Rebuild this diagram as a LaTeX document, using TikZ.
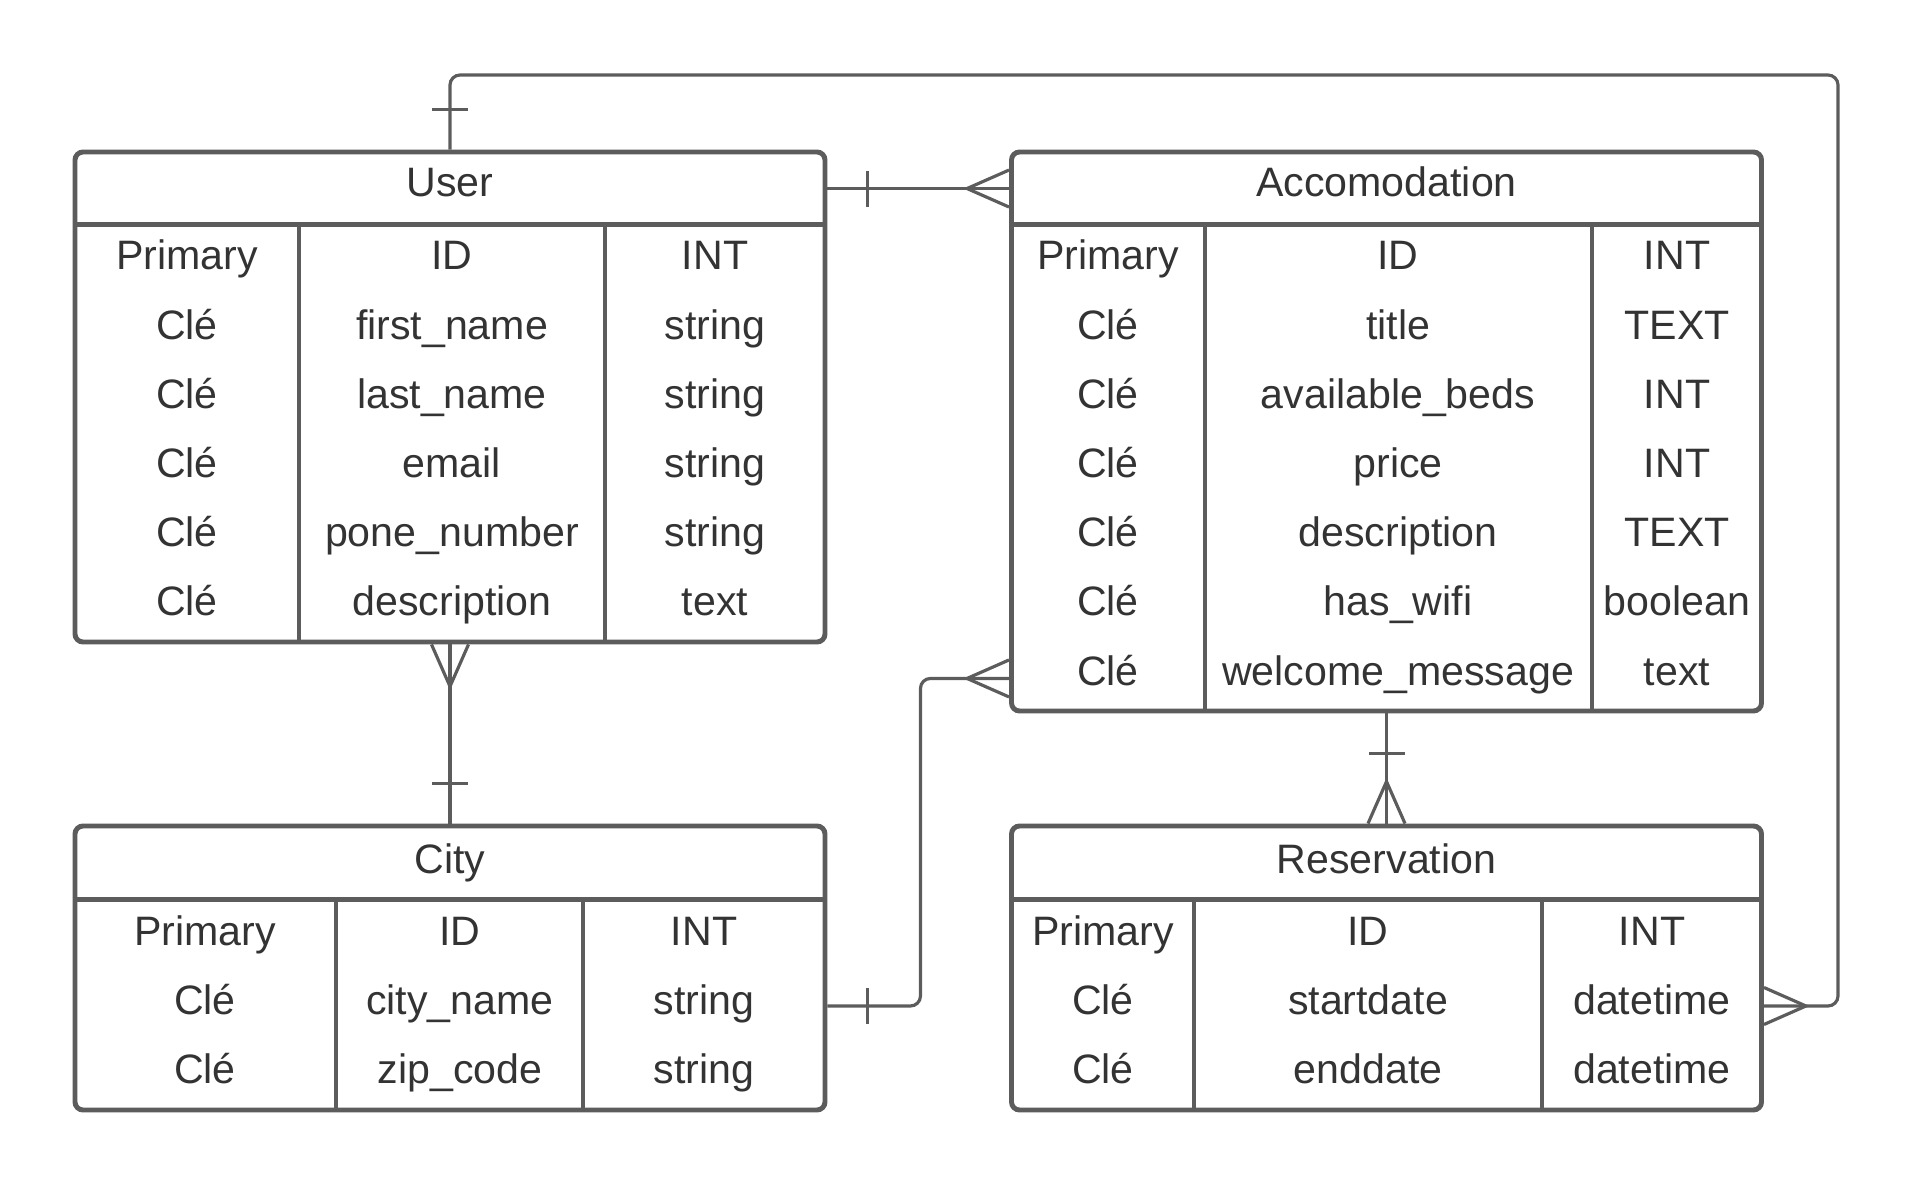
\documentclass[tikz,border=0pt]{standalone}
\usepackage{fontspec}
\setmainfont{Liberation Sans}
\usetikzlibrary{calc}
\definecolor{linegray}{RGB}{92,92,92}
\definecolor{txtgray}{RGB}{51,51,51}
\tikzset{
  entity/.style={draw=linegray, line width=1.4pt, rounded corners=0.8mm, inner sep=0pt},
  headline/.style={draw=linegray, line width=1.4pt},
  colline/.style={draw=linegray, line width=1pt},
  cell/.style={anchor=base, text=txtgray, inner sep=0pt},
  rel/.style={draw=linegray, line width=0.9pt},
  one/.pic={\draw[rel] (-0.4,-0.18) -- (-0.4,0.18);},
  many/.pic={\draw[rel] (0,0.185) -- (-0.42,0) -- (0,-0.185);}
}

\begin{document}
\begin{tikzpicture}[font=\fontsize{11.7}{14}\selectfont]
  \useasboundingbox (0,0) rectangle (19.16,-11.87);

  % entities
  \node[entity, minimum width=7.5cm, minimum height=4.9cm] (user) at (4.5,-3.97) {};
  \node[entity, minimum width=7.5cm, minimum height=5.59cm] (acc) at (13.865,-4.315) {};
  \node[entity, minimum width=7.5cm, minimum height=2.84cm] (city) at (4.5,-9.68) {};
  \node[entity, minimum width=7.5cm, minimum height=2.84cm] (res) at (13.865,-9.68) {};

  % headers and columns
  \draw[headline] ($(user.north west)+(0,-0.75)$) -- ($(user.north east)+(0,-0.75)$);
  \draw[headline] ($(acc.north west)+(0,-0.75)$) -- ($(acc.north east)+(0,-0.75)$);
  \draw[headline] ($(city.north west)+(0,-0.76)$) -- ($(city.north east)+(0,-0.76)$);
  \draw[headline] ($(res.north west)+(0,-0.76)$) -- ($(res.north east)+(0,-0.76)$);
  \draw[colline] (2.99,-2.27) -- (2.99,-6.42) (6.05,-2.27) -- (6.05,-6.42);
  \draw[colline] (12.05,-2.27) -- (12.05,-7.11) (15.92,-2.27) -- (15.92,-7.11);
  \draw[colline] (3.36,-9.02) -- (3.36,-11.10) (5.83,-9.02) -- (5.83,-11.10);
  \draw[colline] (11.94,-9.02) -- (11.94,-11.10) (15.42,-9.02) -- (15.42,-11.10);

  \node[cell] (usertitle) at (4.5,-1.97) {User};
  \node[cell] (acctitle) at (13.865,-1.97) {Accomodation};
  \node[cell] (citytitle) at (4.5,-8.73) {City};
  \node[cell] (restitle) at (13.865,-8.73) {Reservation};

  \foreach \a/\b/\c [count=\i] in {Primary/ID/INT, Clé/first\_name/string, Clé/last\_name/string,
      Clé/email/string, Clé/pone\_number/string, Clé/description/text} {
    \node[cell] (u-\i-a) at ({1.87},{-2.70-0.692*(\i-1)}) {\a};
    \node[cell] (u-\i-b) at ({4.52},{-2.70-0.692*(\i-1)}) {\b};
    \node[cell] (u-\i-c) at ({7.15},{-2.70-0.692*(\i-1)}) {\c};
  }
  \foreach \a/\b/\c [count=\i] in {Primary/ID/INT, Clé/title/TEXT, Clé/available\_beds/INT,
      Clé/price/INT, Clé/description/TEXT, Clé/has\_wifi/boolean, Clé/welcome\_message/text} {
    \node[cell] (a-\i-a) at ({11.08},{-2.70-0.692*(\i-1)}) {\a};
    \node[cell] (a-\i-b) at ({13.98},{-2.70-0.692*(\i-1)}) {\b};
    \node[cell] (a-\i-c) at ({16.77},{-2.70-0.692*(\i-1)}) {\c};
  }
  \foreach \a/\b/\c [count=\i] in {Primary/ID/INT, Clé/city\_name/string, Clé/zip\_code/string} {
    \node[cell] (c-\i-a) at ({2.05},{-9.45-0.692*(\i-1)}) {\a};
    \node[cell] (c-\i-b) at ({4.60},{-9.45-0.692*(\i-1)}) {\b};
    \node[cell] (c-\i-c) at ({7.04},{-9.45-0.692*(\i-1)}) {\c};
  }
  \foreach \a/\b/\c [count=\i] in {Primary/ID/INT, Clé/startdate/datetime, Clé/enddate/datetime} {
    \node[cell] (r-\i-a) at ({11.03},{-9.45-0.692*(\i-1)}) {\a};
    \node[cell] (r-\i-b) at ({13.68},{-9.45-0.692*(\i-1)}) {\b};
    \node[cell] (r-\i-c) at ({16.52},{-9.45-0.692*(\i-1)}) {\c};
  }

  % relations
  \coordinate (loop) at (18.38,-0.75);
  \draw[rel, rounded corners=1mm] (user.north) |- (loop) |- ($(res.east)+(0,-0.38)$);
  \pic[rotate=-90] at (user.north) {one};
  \pic[rotate=180] at ($(res.east)+(0,-0.38)$) {many};

  \draw[rel] ($(user.north east)+(0,-0.39)$) -- ($(acc.north west)+(0,-0.39)$);
  \pic[rotate=180] at ($(user.north east)+(0,-0.39)$) {one};
  \pic at ($(acc.north west)+(0,-0.39)$) {many};

  \draw[rel] (user.south) -- (city.north);
  \pic[rotate=90] at (user.south) {many};
  \pic[rotate=-90] at (city.north) {one};

  \draw[rel, rounded corners=1mm] ($(city.east)+(0,-0.38)$) -- ++(0.93,0) |- ($(acc.south west)+(0,0.35)$);
  \pic[rotate=180] at ($(city.east)+(0,-0.38)$) {one};
  \pic at ($(acc.south west)+(0,0.35)$) {many};

  \draw[rel] (acc.south) -- (res.north);
  \pic[rotate=90] at (acc.south) {one};
  \pic[rotate=-90] at (res.north) {many};
\end{tikzpicture}
\end{document}
